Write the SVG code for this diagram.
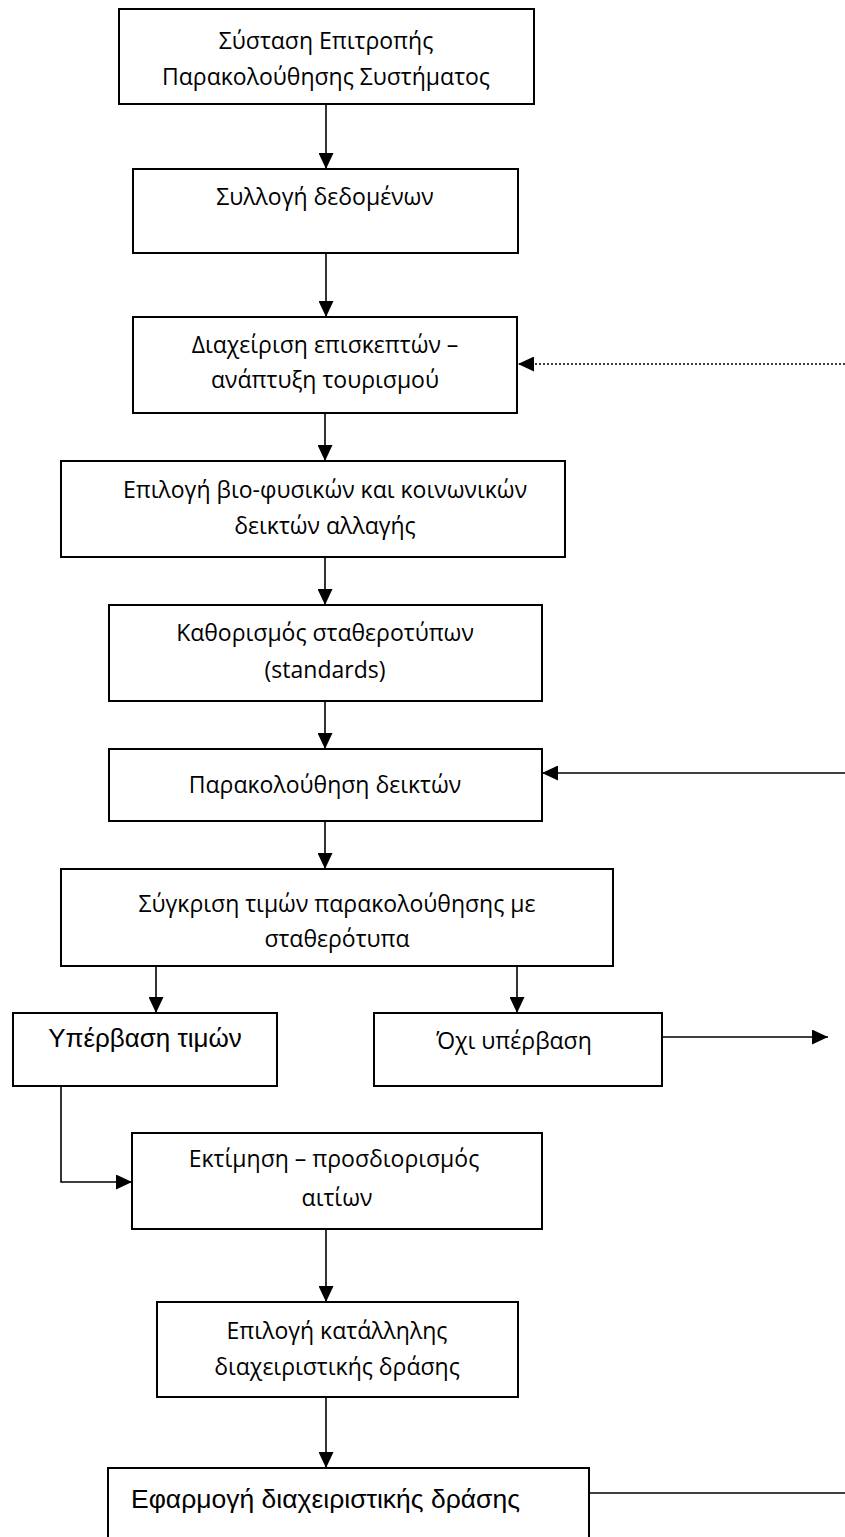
<svg xmlns="http://www.w3.org/2000/svg" width="845" height="1537" viewBox="0 0 845 1537">
<style>
.box{fill:#fff;stroke:#000;stroke-width:2}
.t{font-family:"Open Sans","Noto Sans",sans-serif;font-size:23px;fill:#000;text-anchor:middle}
.a{font-family:"Liberation Sans",Arial,sans-serif;font-size:26px;fill:#000}
.c{fill:none;stroke:#000;stroke-width:1.6}
.d{stroke-dasharray:2 2}
</style>
<defs>
<marker id="ah" markerUnits="userSpaceOnUse" markerWidth="16" markerHeight="15" refX="16" refY="7.5" orient="auto" viewBox="0 0 16 15">
<path d="M0,0 L16,7.5 L0,15 z" fill="#000"/>
</marker>
</defs>
<rect width="845" height="1537" fill="#fff"/>
<g id="connectors">
<line class="c" x1="326" y1="104" x2="326" y2="169" marker-end="url(#ah)"/>
<line class="c" x1="326" y1="253" x2="326" y2="317" marker-end="url(#ah)"/>
<line class="c d" x1="845" y1="364" x2="518" y2="364" marker-end="url(#ah)"/>
<line class="c" x1="325" y1="413" x2="325" y2="461" marker-end="url(#ah)"/>
<line class="c" x1="325" y1="557" x2="325" y2="605" marker-end="url(#ah)"/>
<line class="c" x1="325" y1="701" x2="325" y2="749" marker-end="url(#ah)"/>
<line class="c" x1="845" y1="773" x2="542" y2="773" marker-end="url(#ah)"/>
<line class="c" x1="325" y1="821" x2="325" y2="869" marker-end="url(#ah)"/>
<line class="c" x1="156" y1="966" x2="156" y2="1013" marker-end="url(#ah)"/>
<line class="c" x1="517" y1="966" x2="517" y2="1013" marker-end="url(#ah)"/>
<line class="c" x1="662" y1="1037" x2="828" y2="1037" marker-end="url(#ah)"/>
<polyline class="c" points="61,1086 61,1182 132,1182" marker-end="url(#ah)"/>
<line class="c" x1="326" y1="1229" x2="326" y2="1302" marker-end="url(#ah)"/>
<line class="c" x1="326" y1="1397" x2="326" y2="1468" marker-end="url(#ah)"/>
<line class="c" x1="589" y1="1493" x2="845" y2="1493"/>
</g>
<g id="n1"><rect class="box" x="119" y="9" width="415" height="95"/>
<text class="t" x="326" y="49">Σύσταση Επιτροπής</text>
<text class="t" x="326" y="85">Παρακολούθησης Συστήματος</text></g>
<g id="n2"><rect class="box" x="133" y="169" width="385" height="84"/>
<text class="t" x="325" y="205">Συλλογή δεδομένων</text></g>
<g id="n3"><rect class="box" x="133" y="317" width="384" height="96"/>
<text class="t" x="325" y="353">Διαχείριση επισκεπτών –</text>
<text class="t" x="325" y="388">ανάπτυξη τουρισμού</text></g>
<g id="n4"><rect class="box" x="61" y="461" width="504" height="96"/>
<text class="t" x="325" y="498">Επιλογή βιο-φυσικών και κοινωνικών</text>
<text class="t" x="325" y="534">δεικτών αλλαγής</text></g>
<g id="n5"><rect class="box" x="109" y="605" width="433" height="96"/>
<text class="t" x="325" y="641">Καθορισμός σταθεροτύπων</text>
<text class="t" x="325" y="678">(standards)</text></g>
<g id="n6"><rect class="box" x="109" y="749" width="433" height="72"/>
<text class="t" x="325" y="793">Παρακολούθηση δεικτών</text></g>
<g id="n7"><rect class="box" x="61" y="869" width="552" height="97"/>
<text class="t" x="337" y="912">Σύγκριση τιμών παρακολούθησης με</text>
<text class="t" x="337" y="947">σταθερότυπα</text></g>
<g id="n8"><rect class="box" x="13" y="1013" width="264" height="73"/>
<text class="a" x="145" y="1047" text-anchor="middle">Υπέρβαση τιμών</text></g>
<g id="n9"><rect class="box" x="374" y="1013" width="288" height="73"/>
<text class="t" x="514" y="1049">Όχι υπέρβαση</text></g>
<g id="n10"><rect class="box" x="132" y="1133" width="410" height="96"/>
<text class="t" x="334" y="1167">Εκτίμηση – προσδιορισμός</text>
<text class="t" x="337" y="1206">αιτίων</text></g>
<g id="n11"><rect class="box" x="157" y="1302" width="361" height="95"/>
<text class="t" x="337" y="1339">Επιλογή κατάλληλης</text>
<text class="t" x="337" y="1375">διαχειριστικής δράσης</text></g>
<g id="n12"><rect class="box" x="108" y="1468" width="481" height="80"/>
<text class="a" x="131" y="1508" style="font-size:26.5px">Εφαρμογή διαχειριστικής δράσης</text></g>
</svg>
